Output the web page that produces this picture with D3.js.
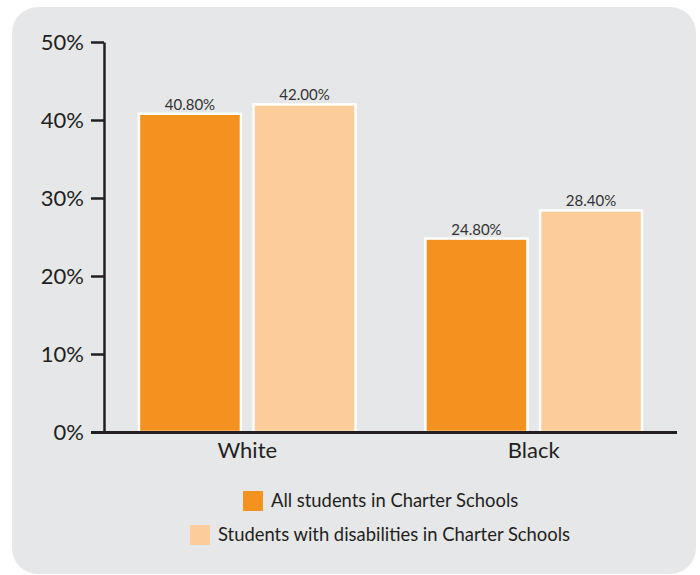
<!DOCTYPE html>
<html><head><meta charset="utf-8">
<script src="https://cdn.jsdelivr.net/npm/d3@7"></script>
<style>body{margin:0;background:#fff;} text{font-family:Lato,"Open Sans",sans-serif;}</style>
</head><body><svg id="c" width="700" height="575"></svg>
<script>
const categories = ["White", "Black"];
const seriesNames = ["All students in Charter Schools", "Students with disabilities in Charter Schools"];
const allStudents = [40.8, 24.8];
const withDisabilities = [42.0, 28.4];
const yTicks = [0, 10, 20, 30, 40, 50];
const colors = ["#f3921f", "#fccd9b"];

const svg = d3.select("#c");
svg.append("rect").attr("x", 12).attr("y", 7).attr("width", 684).attr("height", 567)
  .attr("rx", 26).attr("fill", "#e6e7e9");

const x0 = d3.scaleBand().domain(categories).range([104, 677]).paddingInner(0.244).paddingOuter(0.122);
const x1 = d3.scaleBand().domain([0, 1]).range([0, x0.bandwidth()]).paddingInner(0.11);
const y = d3.scaleLinear().domain([0, 50]).range([432, 42]);

const data = categories.map((c, i) => ({cat: c, vals: [allStudents[i], withDisabilities[i]]}));

const g = svg.append("g");
const groups = g.selectAll("g.grp").data(data).join("g").attr("transform", d => `translate(${x0(d.cat)},0)`);
groups.selectAll("rect").data(d => d.vals.map((v, k) => ({v, k}))).join("rect")
  .attr("x", d => x1(d.k)).attr("width", x1.bandwidth())
  .attr("y", d => y(d.v)).attr("height", d => y(0) - y(d.v))
  .attr("fill", d => colors[d.k]).attr("stroke", "#fff").attr("stroke-width", 2.5);
groups.selectAll("text.val").data(d => d.vals.map((v, k) => ({v, k}))).join("text")
  .attr("class", "val")
  .attr("x", d => x1(d.k) + x1.bandwidth() / 2).attr("y", d => y(d.v) - 4)
  .attr("text-anchor", "middle").attr("font-size", 15).attr("fill", "#333333")
  .text(d => d.v.toFixed(2) + "%");

// y axis
const yAxis = d3.axisLeft(y).tickValues(yTicks).tickFormat(d => d + "%").tickSize(13).tickSizeOuter(0);
const ya = svg.append("g").attr("transform", "translate(104,0)").call(yAxis);
ya.select(".domain").attr("stroke", "#231f20").attr("stroke-width", 2.5);
ya.selectAll(".tick line").attr("stroke", "#231f20").attr("stroke-width", 2.5);
ya.selectAll(".tick text").attr("font-size", 22).attr("fill", "#231f20").attr("x", -20).attr("dy", "0.36em")
  .style("font-family", "Lato, sans-serif");

// x axis
const xa = svg.append("g").attr("transform", "translate(0,432)")
  .call(d3.axisBottom(x0).tickSize(0).tickSizeOuter(0));
xa.select(".domain").remove();
svg.append("line").attr("x1", 91).attr("x2", 677).attr("y1", 432.5).attr("y2", 432.5)
  .attr("stroke", "#231f20").attr("stroke-width", 3);
xa.selectAll(".tick text").attr("font-size", 22).attr("fill", "#231f20").attr("dy", 0).attr("y", 26)
  .style("font-family", "Lato, sans-serif");

// legend
const legend = [{x: 243, y: 491}, {x: 190, y: 525}];
const lg = svg.selectAll("g.leg").data(seriesNames).join("g")
  .attr("transform", (d, i) => `translate(${legend[i].x},${legend[i].y})`);
lg.append("rect").attr("width", 20).attr("height", 20).attr("fill", (d, i) => colors[i]);
lg.append("text").attr("x", 28).attr("y", 16).attr("font-size", 18.4).attr("fill", "#231f20").text(d => d);
</script></body></html>
